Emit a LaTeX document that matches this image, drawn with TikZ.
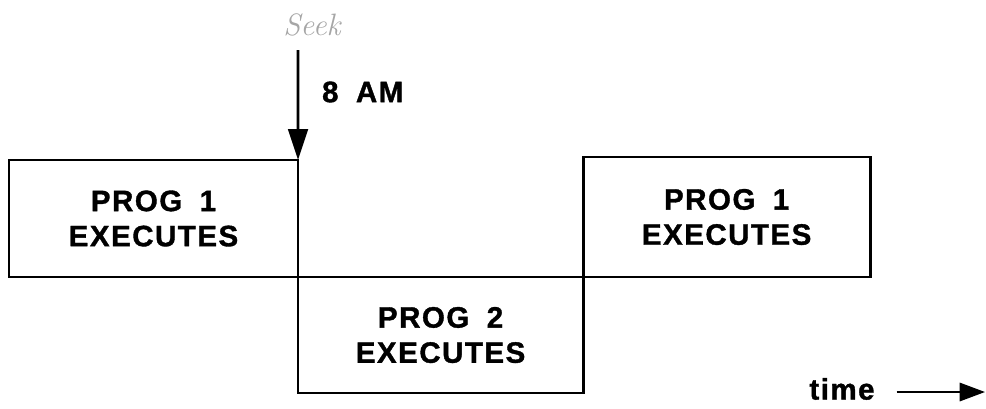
\documentclass[tikz,border=0pt]{standalone}
\usepackage{fontspec}
\setsansfont{Liberation Sans}[LetterSpace=5, WordSpace=1.8, BoldFeatures={FakeBold=1.2}]
\usepackage{tikz}
\usetikzlibrary{arrows.meta}
\usetikzlibrary{positioning}

\begin{document}
\begin{tikzpicture}[x=0.025cm, y=-0.025cm,
	line width=2pt,
	progbox/.style={draw, rectangle, align=center, outer sep=0pt, inner sep=0pt},
	font=\sffamily\bfseries\fontsize{21}{25}\selectfont]
  \useasboundingbox (0,0) rectangle (986,408);

  \node[progbox, minimum width=7.225cm, minimum height=2.925cm] (prog1a) at (153.5,218.5) {PROG 1\\EXECUTES};
  \node[progbox, anchor=north west, minimum width=7.125cm, minimum height=2.9cm] (prog2) at (prog1a.south east) {PROG 2\\EXECUTES};
  \node[progbox, anchor=south west, minimum width=7.175cm, minimum height=3cm] (prog1b) at (prog2.north east) {PROG 1\\EXECUTES};

  \node[font=\normalfont\itshape\fontsize{22}{22}\selectfont, text=gray!70] (seek) at (312,25) {Seek};
  \coordinate (clock) at (298,50);
  \draw[-{Triangle[length=22pt,width=14pt]}] (clock) -- (prog1a.north east);
  \node[anchor=west] (eightam) at (316,92) {8 AM};

  \node (time) at (842,389) {time};
  \coordinate (timeend) at (985,392);
  \draw[line width=1.6pt, -{Triangle[length=18pt,width=13pt]}] ([xshift=0.4cm]time.east |- timeend) -- (timeend);
\end{tikzpicture}
\end{document}
